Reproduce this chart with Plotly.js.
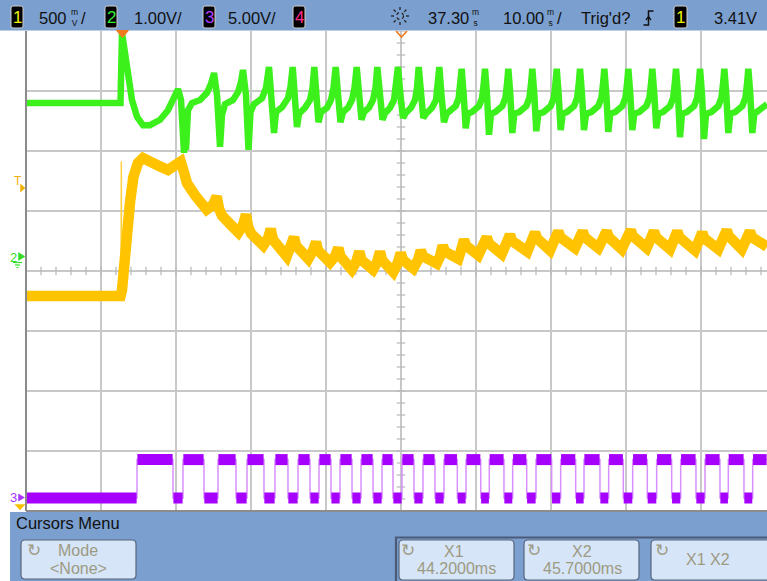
<!DOCTYPE html>
<html><head><meta charset="utf-8">
<script src="https://cdn.plot.ly/plotly-3.0.1.min.js"></script>
<style>html,body{margin:0;padding:0;background:#fff;overflow:hidden}#chart{width:767px;height:581px}</style>
</head><body><div id="chart"></div>
<script>
// ---------- DATA (time in ms after trigger, values in volts) ----------
// Channel 1 (yellow, 500 mV/div)
const ch1Time = [-12.70,-0.10,0.10,0.27,0.73,1.17,1.61,2.23,2.90,3.83,5.17,6.23,7.17,7.93,8.37,8.77,9.83,11.39,12.23,12.73,13.03,13.43,14.50,15.61,16.23,16.63,16.90,17.30,18.94,19.57,19.93,20.23,22.06,22.63,23.03,23.30,24.94,25.57,25.97,26.23,27.83,28.50,28.94,29.23,30.73,31.30,31.74,32.03,33.57,34.10,34.50,34.77,36.27,36.90,37.26,37.57,38.94,39.57,39.93,40.23,42.06,42.50,42.86,43.17,44.94,45.30,45.70,45.97,47.61,
 48.73,48.99,50.73, 51.83,52.10,54.14, 55.17,55.43,57.17, 58.27,58.54,60.50, 61.53,61.79,63.61, 64.73,64.99,66.73, 67.93,68.19,70.06, 71.03,71.30,73.17, 74.14,74.41,76.50, 77.47,77.74,79.61, 80.73,80.99,82.73, 83.83,84.10,85.83, 86.10];
const ch1Volt = [2.50,2.50,2.55,2.72,3.03,3.28,3.49,3.61,3.65,3.63,3.58,3.55,3.58,3.62,3.53,3.44,3.34,3.22,3.26,3.33,3.23,3.17,3.10,3.03,3.09,3.18,3.08,3.02,2.92,2.98,3.06,2.97,2.83,2.91,2.99,2.92,2.81,2.88,2.95,2.88,2.78,2.83,2.90,2.83,2.72,2.78,2.87,2.80,2.72,2.78,2.87,2.80,2.70,2.78,2.86,2.80,2.73,2.80,2.88,2.83,2.77,2.83,2.92,2.87,2.81,2.88,2.97,2.92,2.84,
 2.99,2.94,2.85, 3.01,2.96,2.87, 3.03,2.98,2.88, 3.04,2.99,2.90, 3.04,2.99,2.90, 3.04,2.99,2.89, 3.05,3.00,2.90, 3.04,2.99,2.89, 3.04,2.99,2.88, 3.03,2.98,2.89, 3.05,3.00,2.89, 3.04,2.99,2.90, 2.91];
const ch1GlitchTime = [-0.03, 0.01, 0.05];
const ch1GlitchVolt = [2.50, 3.62, 2.50];

// Channel 2 (green, 1.00 V/div)
const ch2Time = [-12.70,-0.10,0.10,0.37,0.90,1.43,2.10,2.90,3.83,5.17,6.23,7.03,7.57,7.97,8.23,8.37,8.50,8.63,8.90,9.43,10.50,11.43,11.97,12.37,12.77,13.17,13.43,13.83,14.90,15.57,15.97,16.23,16.63,16.97,17.23,17.70,18.77,19.30,19.70,20.03,20.37,20.63,21.43,22.23,22.57,22.86,23.17,23.43,23.70,24.50,25.17,25.50,25.74,26.03,26.30,26.63,27.43,27.97,28.30,28.59,28.90,29.23,29.57,30.23,30.77,31.10,31.39,31.70,32.03,32.37,33.03,33.57,33.90,34.14,34.50,34.83,35.17,35.83,36.37,36.63,36.90,37.23,37.57,37.90,38.63,39.17,39.43,39.66,39.97,40.27,40.63,41.43,41.97,42.17,42.41,42.70,43.03,43.37,
 43.66,44.59,44.99,45.19,45.39,45.66,45.93,46.19,
 46.77,47.70,48.10,48.30,48.50,48.77,49.03,49.30,
 49.88,50.81,51.21,51.41,51.61,51.88,52.14,52.41,
 53.08,54.01,54.41,54.61,54.81,55.08,55.34,55.61,
 56.33,57.26,57.66,57.86,58.06,58.33,58.59,58.86,
 59.44,60.37,60.77,60.97,61.17,61.44,61.70,61.97,
 62.68,63.61,64.01,64.21,64.41,64.68,64.94,65.21,
 65.88,66.81,67.21,67.41,67.61,67.88,68.14,68.41,
 69.08,70.01,70.41,70.61,70.81,71.08,71.34,71.61,
 72.24,73.17,73.57,73.77,73.97,74.24,74.50,74.77,
 75.44,76.37,76.77,76.97,77.17,77.44,77.70,77.97,
 78.68,79.61,80.01,80.21,80.41,80.68,80.94,81.21,
 81.88,82.81,83.21,83.41,83.61,83.88,84.14,84.41,
 85.17,86.10];
const ch2Volt = [2.55,2.55,3.72,3.52,3.02,2.60,2.32,2.18,2.18,2.27,2.43,2.67,2.78,2.60,1.93,1.72,2.18,1.77,2.43,2.55,2.60,2.72,2.87,3.05,2.68,1.82,2.35,2.53,2.60,2.73,2.90,3.10,2.68,1.77,2.40,2.53,2.63,2.80,3.15,2.68,2.05,2.40,2.48,2.63,2.82,3.15,2.68,2.15,2.37,2.47,2.60,2.80,3.15,2.68,2.23,2.40,2.47,2.60,2.80,3.15,2.68,2.23,2.40,2.47,2.60,2.80,3.15,2.68,2.27,2.40,2.47,2.60,2.80,3.15,2.68,2.27,2.38,2.47,2.60,2.80,3.15,2.68,2.30,2.38,2.47,2.60,2.80,3.15,2.68,2.30,2.37,2.47,2.60,2.80,3.15,2.68,2.23,2.37,
 2.40,2.50,2.63,2.83,3.12,2.68,2.13,2.37,
 2.40,2.50,2.63,2.83,3.12,2.68,2.02,2.37,
 2.40,2.50,2.63,2.83,3.12,2.68,2.05,2.37,
 2.40,2.50,2.63,2.83,3.12,2.68,2.08,2.37,
 2.40,2.50,2.63,2.83,3.12,2.68,2.10,2.37,
 2.40,2.50,2.63,2.83,3.12,2.68,2.10,2.37,
 2.40,2.50,2.63,2.83,3.12,2.68,2.07,2.37,
 2.40,2.50,2.63,2.83,3.12,2.68,2.10,2.37,
 2.40,2.50,2.63,2.83,3.12,2.68,2.13,2.37,
 2.40,2.50,2.63,2.83,3.12,2.68,1.98,2.37,
 2.40,2.50,2.63,2.83,3.12,2.68,1.95,2.37,
 2.40,2.50,2.63,2.83,3.12,2.68,2.05,2.37,
 2.40,2.50,2.63,2.83,3.12,2.68,2.05,2.37,
 2.43,2.53];

// Channel 3 (purple, 5.00 V/div) - step levels starting at each time
const ch3Time = [-12.70,2.10,6.90,8.23,11.03,12.90,15.30,16.77,19.03,20.50,22.23,23.57,25.17,26.37,27.97,29.17,30.77,31.97,33.57,34.77,36.23,37.43,39.03,40.23,41.83,43.03,44.81,45.97,47.93,49.07,51.03,52.19,54.06,55.30,57.39,58.59,60.59,61.70,63.83,64.99,66.94,68.19,70.14,71.39,73.39,74.59,76.63,77.83,79.83,80.94,83.03,84.19,86.10];
const ch3Volt = [0,3.2,0,3.2,0,3.2,0,3.2,0,3.2,0,3.2,0,3.2,0,3.2,0,3.2,0,3.2,0,3.2,0,3.2,0,3.2,0,3.2,0,3.2,0,3.2,0,3.2,0,3.2,0,3.2,0,3.2,0,3.2,0,3.2,0,3.2,0,3.2,0,3.2,0,3.2,3.2];

// Header / menu labels
const headerTexts = {ch1Scale:'500', ch2Scale:'1.00V/', ch3Scale:'5.00V/', delay:'37.30', timebase:'10.00', trig:"Trig'd?", trigLevel:'3.41V'};
const menuTitle = 'Cursors Menu';
const cursorX1 = '44.2000ms', cursorX2 = '45.7000ms';

// ---------- LAYOUT GEOMETRY ----------
const W=767,H=581,L=26,R=0,T=31,B=70;
const pw=W-L-R, ph=H-T-B;
const px = x => (x-L)/pw;
const py = y => (H-B-y)/ph;
const FONT = 'Liberation Sans, Arial, sans-serif';
const BLUE = '#7b9fcf';
const BTN_TXT = '#9d9a83';

function rr(x0,y0,x1,y1,r){
  const X=px,Y=py;
  return `M${X(x0+r)},${Y(y0)} L${X(x1-r)},${Y(y0)} Q${X(x1)},${Y(y0)} ${X(x1)},${Y(y0+r)} L${X(x1)},${Y(y1-r)} Q${X(x1)},${Y(y1)} ${X(x1-r)},${Y(y1)} L${X(x0+r)},${Y(y1)} Q${X(x0)},${Y(y1)} ${X(x0)},${Y(y1-r)} L${X(x0)},${Y(y0+r)} Q${X(x0)},${Y(y0)} ${X(x0+r)},${Y(y0)} Z`;
}
function poly(pts){ return 'M'+pts.map(p=>px(p[0])+','+py(p[1])).join(' L')+' Z'; }
function pline(pts){ return 'M'+pts.map(p=>px(p[0])+','+py(p[1])).join(' L'); }
function rect(x0,y0,x1,y1,fill,line,lw){ return {type:'rect',xref:'paper',yref:'paper',x0:px(x0),x1:px(x1),y0:py(y0),y1:py(y1),fillcolor:fill,line:{color:line||fill,width:lw||0},layer:'above'}; }
function path(d,fill,line,lw,dash){ return {type:'path',xref:'paper',yref:'paper',path:d,fillcolor:fill||'rgba(0,0,0,0)',line:{color:line||'rgba(0,0,0,0)',width:lw||0,dash:dash||'solid'},layer:'above'}; }
function txt(text,x,y,o){ o=o||{}; return {text:text,xref:'paper',yref:'paper',x:px(x),y:py(y),showarrow:false,xanchor:o.xa||'center',yanchor:'middle',borderpad:0,font:{family:FONT,size:o.size||16.5,color:o.color||'#111'}}; }

const shapes=[], ann=[];
// top bar and bottom menu
shapes.push(rect(0,0,767,30.5,BLUE));
shapes.push(rect(10,512,767,581,BLUE));
// plot borders
shapes.push({type:'line',xref:'paper',yref:'paper',x0:px(26),x1:px(767),y0:py(511),y1:py(511),line:{color:'#8c8c8c',width:2},layer:'above'});
shapes.push({type:'line',xref:'paper',yref:'paper',x0:px(26),x1:px(26),y0:py(31),y1:py(511),line:{color:'#8a8a8a',width:2},layer:'above'});

// channel boxes in header
const boxes=[[11,23,'1','#f2f200'],[105,117,'2','#33ee33'],[203,215,'3','#b040ff'],[293,305,'4','#ff2a8a'],[674,687,'1','#f2f200']];
boxes.forEach(b=>{ shapes.push(path(rr(b[0],6,b[1],28,2),'#000','#cfcfcf',1)); ann.push(txt(b[2],(b[0]+b[1])/2,17.5,{color:b[3],size:17})); });
// header texts (units drawn as stacked small glyphs, one text each)
ann.push(txt(headerTexts.ch1Scale,67.5,17.5,{xa:'right'}));
ann.push(txt('m<br>V',74,17.5,{size:8.5}));
ann.push(txt('/',83.5,17.5));
ann.push(txt(headerTexts.ch2Scale,133,17.5,{xa:'left'}));
ann.push(txt(headerTexts.ch3Scale,227,17.5,{xa:'left'}));
ann.push(txt(headerTexts.delay,470,17.5,{xa:'right'}));
ann.push(txt('m<br>s',476,17.5,{size:8.5}));
ann.push(txt(headerTexts.timebase,544.5,17.5,{xa:'right'}));
ann.push(txt('m<br>s',550.5,17.5,{size:8.5}));
ann.push(txt('/',559,17.5));
ann.push(txt(headerTexts.trig,580,17.5,{xa:'left'}));
ann.push(txt(headerTexts.trigLevel,758,17.5,{xa:'right'}));
// trigger edge glyph
shapes.push(path(pline([[643.5,25],[648.5,25],[648.5,11],[653.5,11]]),null,'#111',1.5));
shapes.push(path(pline([[646,20],[648.5,16.5],[651,20]]),null,'#111',1.3));
// sun icon
shapes.push({type:'circle',xref:'paper',yref:'paper',x0:px(396.5),x1:px(403.5),y0:py(12.5),y1:py(19.5),line:{color:'#222',width:1.2,dash:'dot'},layer:'above'});
for(let k=0;k<8;k++){ const a=k*Math.PI/4; shapes.push({type:'line',xref:'paper',yref:'paper',x0:px(400+6*Math.cos(a)),x1:px(400+9*Math.cos(a)),y0:py(16+6*Math.sin(a)),y1:py(16+9*Math.sin(a)),line:{color:'#222',width:1.3},layer:'above'}); }

// top markers (trigger position & center reference)
shapes.push(path(poly([[116.5,30.5],[128.5,30.5],[122.5,37.5]]),'#f07a1e','#f07a1e',1));
shapes.push(path(pline([[396,31],[401.5,37],[407,31]]),null,'#f07a1e',1.6));

// left markers
ann.push(txt('T',17.5,181,{color:'#f0b000',size:12}));
shapes.push(path(poly([[20.5,184],[20.5,192],[25,188]]),'#f0b000','#f0b000',0.5));
ann.push(txt('2',13.5,257,{color:'#33dd22',size:13}));
shapes.push(path(poly([[18.5,252.5],[18.5,260.5],[25,256.5]]),'#33dd22','#33dd22',0.5));
shapes.push({type:'line',xref:'paper',yref:'paper',x0:px(13),x1:px(22),y0:py(262.5),y1:py(262.5),line:{color:'#33dd22',width:1.2},layer:'above'});
shapes.push({type:'line',xref:'paper',yref:'paper',x0:px(15),x1:px(20),y0:py(265),y1:py(265),line:{color:'#33dd22',width:1.2},layer:'above'});
shapes.push({type:'line',xref:'paper',yref:'paper',x0:px(16.5),x1:px(18.5),y0:py(267.5),y1:py(267.5),line:{color:'#33dd22',width:1.2},layer:'above'});
ann.push(txt('3',13,497.5,{color:'#aa33ff',size:13}));
shapes.push(path(poly([[18.5,494],[18.5,501],[24.5,497.5]]),'#aa33ff','#aa33ff',0.5));
shapes.push(path(poly([[15,504.5],[25,504.5],[20,510]]),'#f5c000','#f5c000',0.5));

// bottom menu
ann.push(txt(menuTitle,15,523,{xa:'left',size:16.5}));
shapes.push(path(rr(21,540,136,579,4),'#d6e5f7','#58667f',1.2));
ann.push(txt('↻',34,550,{color:BTN_TXT,size:17}));
ann.push(txt('Mode',77.5,550,{color:BTN_TXT,size:16}));
ann.push(txt('<None>',78.5,568,{color:BTN_TXT,size:16}));
shapes.push(rect(396,537.5,770,584,'rgba(0,0,0,0)','#4c5a78',2.2));
shapes.push(path(rr(399,540,514,580,4),'#d6e5f7','#58667f',1.2));
shapes.push(path(rr(524,540,639,580,4),'#d6e5f7','#58667f',1.2));
shapes.push(path(rr(651,540,772,580,4),'#d6e5f7','#58667f',1.2));
ann.push(txt('↻',408,550,{color:BTN_TXT,size:17}));
ann.push(txt('X1',454,551,{color:BTN_TXT,size:16}));
ann.push(txt(cursorX1,456,568,{color:BTN_TXT,size:16}));
ann.push(txt('↻',534,550,{color:BTN_TXT,size:17}));
ann.push(txt('X2',582,551,{color:BTN_TXT,size:16}));
ann.push(txt(cursorX2,582,568,{color:BTN_TXT,size:16}));
ann.push(txt('↻',662,550,{color:BTN_TXT,size:17}));
ann.push(txt('X1 X2',707.5,559,{color:BTN_TXT,size:16}));

// ---------- TRACES ----------
// graticule minor ticks on the centre cross
const tickX=[], tickXY=[], tickY=[], tickYX=[];
for(let t=-12.7;t<=86.2;t+=2){ tickX.push(t); tickXY.push(0); }
for(let d=-4;d<=4.001;d+=0.2){ tickY.push(d); tickYX.push(37.3); }

const bandX=[], bandY=[];
for(let i=0;i<ch3Time.length-1;i++){ bandX.push(ch3Time[i]+0.05, ch3Time[i+1]-0.05, null); bandY.push(ch3Volt[i], ch3Volt[i], null); }

const traces=[
  {x:tickX,y:tickXY,xaxis:'x',yaxis:'y',mode:'markers',marker:{symbol:'line-ns',size:6,line:{color:'#b8b8b8',width:1.2}},hoverinfo:'skip'},
  {x:tickYX,y:tickY,xaxis:'x',yaxis:'y',mode:'markers',marker:{symbol:'line-ew',size:6,line:{color:'#b8b8b8',width:1.2}},hoverinfo:'skip'},
  {x:ch3Time,y:ch3Volt,yaxis:'y4',mode:'lines',line:{shape:'hv',color:'#d890ff',width:1.5},hoverinfo:'skip'},
  {x:bandX,y:bandY,yaxis:'y4',mode:'lines',line:{color:'#a600ff',width:11},connectgaps:false,hoverinfo:'skip'},
  {x:ch1GlitchTime,y:ch1GlitchVolt,yaxis:'y2',mode:'lines',line:{color:'#ffd040',width:1.5},hoverinfo:'skip'},
  {x:ch1Time,y:ch1Volt,yaxis:'y2',mode:'lines',line:{color:'#ffc300',width:10.5},hoverinfo:'skip'},
  {x:ch2Time,y:ch2Volt,yaxis:'y3',mode:'lines',line:{color:'#3cf01c',width:6.5},hoverinfo:'skip'}
];

const hiddenAxis = r => ({range:r,overlaying:'y',showgrid:false,zeroline:false,showticklabels:false,ticks:'',showline:false,fixedrange:true});
const layout={
  width:W,height:H,margin:{l:L,r:R,t:T,b:B,pad:0},
  paper_bgcolor:'#ffffff',plot_bgcolor:'#ffffff',showlegend:false,
  xaxis:{range:[-12.7,86.1],tick0:-2.7,dtick:10,showgrid:true,gridcolor:'#c8c8c8',gridwidth:1.6,zeroline:false,showticklabels:false,ticks:'',showline:false,fixedrange:true},
  yaxis:{range:[-4,4],tick0:0,dtick:1,showgrid:true,gridcolor:'#c8c8c8',gridwidth:1.6,zeroline:false,showticklabels:false,ticks:'',showline:false,fixedrange:true},
  yaxis2:hiddenAxis([(596-511)/120,(596-31)/120]),
  yaxis3:hiddenAxis([-4.25,3.75]),
  yaxis4:hiddenAxis([-13/12,467/12]),
  shapes:shapes,annotations:ann
};
Plotly.newPlot('chart',traces,layout,{staticPlot:true,displayModeBar:false});
</script></body></html>
